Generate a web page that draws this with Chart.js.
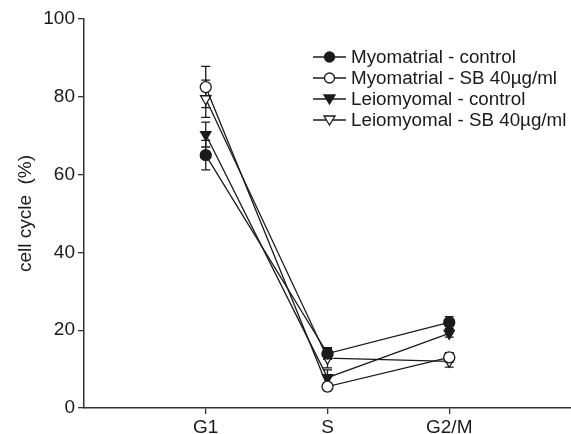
<!DOCTYPE html>
<html><head><meta charset="utf-8">
<script src="https://cdn.jsdelivr.net/npm/chart.js@4"></script>
<style>html,body{margin:0;padding:0;background:#fff}#wrap{width:571px;height:434px}</style>
</head><body><div id="wrap"><canvas id="c" width="571" height="434"></canvas></div>
<script>
const phases = ['G1', 'S', 'G2/M'];
const phasePos = [1, 2, 3];
const seriesLabels = ['Myomatrial - control', 'Myomatrial - SB 40\u00b5g/ml', 'Leiomyomal - control', 'Leiomyomal - SB 40\u00b5g/ml'];
const myoControl = [65.0, 14.0, 22.0];
const myoControlErr = [3.8, 1.5, 1.5];
const myoSB = [82.5, 5.5, 13.0];
const myoSBErr = [5.3, 1.0, 1.2];
const leioControl = [70.3, 7.8, 19.2];
const leioControlErr = [3.2, 2.0, 1.0];
const leioSB = [79.5, 12.8, 12.0];
const leioSBErr = [4.8, 2.5, 1.5];
const yTicks = [0, 20, 40, 60, 80, 100];

const FONT = "'Liberation Sans', Arial, sans-serif";
const INK = '#1a1a1a';

function mk(label, vals, errs, filled, style) {
  return {
    label: label,
    data: vals.map((v, i) => ({x: phasePos[i], y: v})),
    errors: errs,
    borderColor: INK,
    borderWidth: 1.3,
    pointStyle: style,
    rotation: style === 'triangle' ? 180 : 0,
    pointRadius: style === 'triangle' ? 6 : 5.5,
    pointBorderWidth: 1.3,
    pointBackgroundColor: filled ? INK : '#fff',
    pointBorderColor: INK,
    fill: false,
    tension: 0,
    clip: false
  };
}

const errorBars = {
  id: 'errorBars',
  beforeDatasetsDraw(chart) {
    const ctx = chart.ctx, ys = chart.scales.y;
    ctx.save();
    ctx.strokeStyle = INK;
    ctx.lineWidth = 1.3;
    chart.data.datasets.forEach((ds, di) => {
      const meta = chart.getDatasetMeta(di);
      meta.data.forEach((pt, i) => {
        const v = ds.data[i].y, e = ds.errors[i];
        const x = pt.x, yt = ys.getPixelForValue(v + e), yb = ys.getPixelForValue(v - e);
        ctx.beginPath();
        ctx.moveTo(x, yt); ctx.lineTo(x, yb);
        ctx.moveTo(x - 4.5, yt); ctx.lineTo(x + 4.5, yt);
        ctx.moveTo(x - 4.5, yb); ctx.lineTo(x + 4.5, yb);
        ctx.stroke();
      });
    });
    ctx.restore();
  }
};

const legendBox = {
  id: 'legendBox',
  afterDraw(chart) {
    const ctx = chart.ctx;
    ctx.save();
    const x0 = 313, x1 = 346, tx = 351;
    const rows = [57, 78, 99, 120];
    chart.data.datasets.forEach((ds, i) => {
      const y = rows[i];
      ctx.strokeStyle = INK; ctx.lineWidth = 1.3;
      ctx.beginPath(); ctx.moveTo(x0, y); ctx.lineTo(x1, y); ctx.stroke();
      const cx = (x0 + x1) / 2;
      ctx.fillStyle = ds.pointBackgroundColor;
      ctx.beginPath();
      if (ds.pointStyle === 'circle') {
        ctx.arc(cx, y, 5, 0, Math.PI * 2);
      } else {
        ctx.moveTo(cx - 5.5, y - 4);
        ctx.lineTo(cx + 5.5, y - 4);
        ctx.lineTo(cx, y + 5);
        ctx.closePath();
      }
      ctx.fill(); ctx.stroke();
      ctx.fillStyle = INK;
      ctx.font = '18.8px ' + FONT;
      ctx.textBaseline = 'middle';
      ctx.textAlign = 'left';
      ctx.fillText(ds.label, tx, y + 1);
    });
    ctx.restore();
  }
};

new Chart(document.getElementById('c'), {
  type: 'line',
  data: {
    datasets: [
      mk(seriesLabels[0], myoControl, myoControlErr, true, 'circle'),
      mk(seriesLabels[1], myoSB, myoSBErr, false, 'circle'),
      mk(seriesLabels[2], leioControl, leioControlErr, true, 'triangle'),
      mk(seriesLabels[3], leioSB, leioSBErr, false, 'triangle')
    ]
  },
  options: {
    responsive: false,
    animation: false,
    layout: {autoPadding: false, padding: {top: 19, right: 0, left: 0, bottom: 0}},
    plugins: {legend: {display: false}, tooltip: {enabled: false}},
    scales: {
      x: {
        type: 'linear', min: 0, max: 4,
        afterBuildTicks(axis) { axis.ticks = phasePos.map(v => ({value: v})); },
        afterFit(axis) { axis.height = 26; axis.paddingLeft = 0; axis.paddingRight = 0; },
        ticks: {
          callback: (v) => phases[phasePos.indexOf(v)],
          color: INK, font: {size: 19, family: FONT}, padding: 2, maxRotation: 0, autoSkip: false
        },
        grid: {display: true, drawOnChartArea: false, drawTicks: true, tickLength: 6, color: '#333', lineWidth: 1.3},
        border: {display: true, color: '#333', width: 1.5}
      },
      y: {
        min: 0, max: 100,
        afterBuildTicks(axis) { axis.ticks = yTicks.map(v => ({value: v})); },
        afterFit(axis) { axis.width = 84; },
        ticks: {color: INK, font: {size: 19, family: FONT}, padding: 3},
        grid: {display: true, drawOnChartArea: false, drawTicks: true, tickLength: 6, color: '#333', lineWidth: 1.3},
        border: {display: true, color: '#333', width: 1.5},
        title: {display: true, text: 'cell cycle  (%)', color: INK, font: {size: 19, family: FONT}, padding: {top: 14, bottom: 0}}
      }
    }
  },
  plugins: [errorBars, legendBox]
});
</script>
</body></html>
